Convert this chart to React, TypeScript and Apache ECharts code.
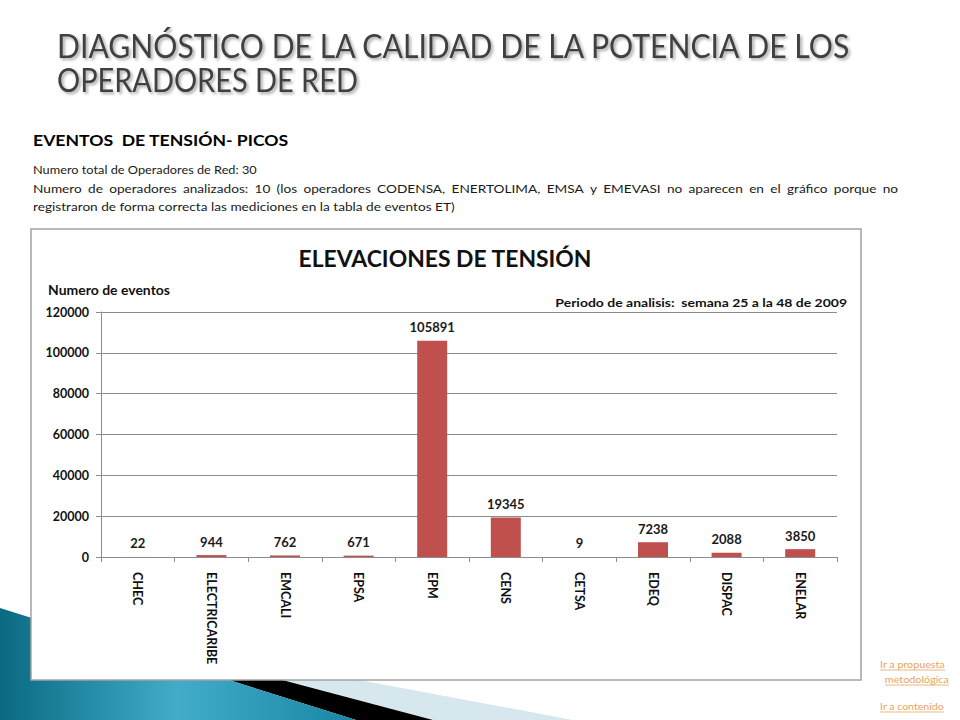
import React, { useEffect, useRef } from "react";
import * as echarts from "echarts";

const categories = ["CHEC", "ELECTRICARIBE", "EMCALI", "EPSA", "EPM", "CENS", "CETSA", "EDEQ", "DISPAC", "ENELAR"];
const values = [22, 944, 762, 671, 105891, 19345, 9, 7238, 2088, 3850];
const yMin = 0;
const yMax = 120000;
const yStep = 20000;

const titleLines = ["DIAGNÓSTICO DE LA CALIDAD DE LA POTENCIA DE LOS", "OPERADORES DE RED"];
const subtitle = "EVENTOS  DE TENSIÓN- PICOS";
const bodyLine1 = "Numero total de Operadores de Red: 30";
const bodyLine2 =
  "Numero de operadores analizados: 10 (los operadores CODENSA, ENERTOLIMA, EMSA y EMEVASI no aparecen en el gráfico porque no";
const bodyLine3 = "registraron de forma correcta las mediciones en la tabla de eventos ET)";
const chartTitle = "ELEVACIONES DE TENSIÓN";
const yAxisTitle = "Numero de eventos";
const periodText = "Periodo de analisis:  semana 25 a la 48 de 2009";
const links = ["Ir a propuesta", " metodológica", "Ir a contenido"];

const FONT = "Lato, 'Open Sans', 'DejaVu Sans', sans-serif";

let ctx: CanvasRenderingContext2D | null = null;
function measure(text: string, size: number, weight: string = "normal"): number {
  if (!ctx) ctx = document.createElement("canvas").getContext("2d");
  if (!ctx) return text.length * size * 0.5;
  ctx.font = `${weight} ${size}px ${FONT}`;
  return ctx.measureText(text).width;
}

function fitText(
  text: string,
  x: number,
  y: number,
  size: number,
  weight: string,
  fill: string,
  targetW: number,
  align: string = "left",
  extra: any = {}
) {
  const w = measure(text, size, weight);
  const s = targetW / w;
  return {
    type: "text",
    x,
    y,
    scaleX: s,
    z: 10,
    style: {
      text,
      fontFamily: FONT,
      fontSize: size,
      fontWeight: weight,
      fill,
      textAlign: align,
      textVerticalAlign: "middle",
      ...extra,
    },
  };
}

export default function App() {
  const ref = useRef<HTMLDivElement>(null);

  useEffect(() => {
    if (!ref.current) return;
    const chart = echarts.init(ref.current, undefined, { renderer: "svg" });

    const graphics: any[] = [];

    // decorative shapes bottom-left
    graphics.push({
      type: "polygon",
      z: -3,
      shape: { points: [[200, 650], [573, 720], [433, 720], [200, 658]] },
      style: { fill: "#d6e7ee" },
    });
    graphics.push({
      type: "polygon",
      z: -3,
      shape: { points: [[100, 631.8], [433, 720], [356, 720], [100, 639.4]] },
      style: { fill: "#000000" },
    });
    graphics.push({
      type: "polygon",
      z: -3,
      shape: { points: [[0, 608], [356, 720], [0, 720]] },
      style: {
        fill: new echarts.graphic.LinearGradient(0, 0, 1, 0, [
          { offset: 0, color: "#0a6a82" },
          { offset: 0.5, color: "#42acc9" },
          { offset: 1, color: "#1886a3" },
        ]),
      },
    });

    // chart box
    graphics.push({
      type: "rect",
      z: -2,
      shape: { x: 31, y: 229, width: 830, height: 451 },
      style: { fill: "#ffffff", stroke: "#a3a3a3", lineWidth: 1.5 },
    });

    // slide title
    const shadow = {
      textShadowColor: "rgba(0,0,0,0.35)",
      textShadowBlur: 3,
      textShadowOffsetX: 2,
      textShadowOffsetY: 2,
    };
    graphics.push(fitText(titleLines[0], 57, 45, 33, "normal", "#404040", 795, "left", shadow));
    graphics.push(fitText(titleLines[1], 57, 79, 33, "normal", "#404040", 301, "left", shadow));

    // subtitle & body
    graphics.push(fitText(subtitle, 33, 140, 16, "bold", "#000000", 256));
    graphics.push(fitText(bodyLine1, 33, 170, 12, "normal", "#1a1a1a", 224));
    const s3 = 422 / measure(bodyLine3, 12);
    graphics.push(fitText(bodyLine3, 33, 206, 12, "normal", "#1a1a1a", 422));
    // justified line 2
    const words = bodyLine2.split(" ");
    const ww = words.map((w) => measure(w, 12) * s3);
    const total = ww.reduce((a, b) => a + b, 0);
    const gap = (865 - total) / (words.length - 1);
    let cx = 33;
    words.forEach((w, i) => {
      graphics.push({
        type: "text",
        x: cx,
        y: 188,
        scaleX: s3,
        z: 10,
        style: {
          text: w,
          fontFamily: FONT,
          fontSize: 12,
          fill: "#1a1a1a",
          textAlign: "left",
          textVerticalAlign: "middle",
        },
      });
      cx += ww[i] + gap;
    });

    // chart texts
    graphics.push(fitText(chartTitle, 445, 258, 23, "bold", "#111111", 294, "center"));
    graphics.push(fitText(yAxisTitle, 48, 290, 13, "bold", "#111111", 122));
    graphics.push(fitText(periodText, 847, 302, 12, "bold", "#111111", 292, "right"));

    // links
    const linkColor = "#e9a35c";
    const linkPos = [
      [880, 664, 65],
      [882, 679, 67],
      [880, 706, 64],
    ];
    links.forEach((t, i) => {
      const [lx, ly, lw] = linkPos[i];
      graphics.push(fitText(t, lx, ly, 10, "normal", linkColor, lw));
      const startX = t.startsWith(" ") ? lx + 3 : lx;
      graphics.push({
        type: "line",
        z: 10,
        shape: { x1: startX, y1: ly + 6, x2: lx + lw, y2: ly + 6 },
        style: { stroke: linkColor, lineWidth: 0.8 },
      });
    });

    const axisColor = "#8c8c8c";

    chart.setOption({
      animation: false,
      backgroundColor: "#ffffff",
      grid: { left: 101, right: 123, top: 312, bottom: 163, containLabel: false },
      xAxis: {
        type: "category",
        data: categories,
        axisLine: { show: true, lineStyle: { color: axisColor, width: 1 } },
        axisTick: { show: true, length: 5, alignWithLabel: false, lineStyle: { color: axisColor } },
        axisLabel: {
          interval: 0,
          rotate: -90,
          margin: 15,
          fontFamily: FONT,
          fontWeight: "bold",
          fontSize: 12.5,
          color: "#111111",
        },
      },
      yAxis: {
        type: "value",
        min: yMin,
        max: yMax,
        interval: yStep,
        axisLine: { show: true, lineStyle: { color: axisColor, width: 1 } },
        axisTick: { show: true, length: 5, lineStyle: { color: axisColor } },
        splitLine: { show: true, lineStyle: { color: axisColor, width: 1 } },
        axisLabel: {
          margin: 12,
          fontFamily: FONT,
          fontWeight: "bold",
          fontSize: 12.5,
          color: "#111111",
          formatter: (v: number) => String(v),
        },
      },
      series: [
        {
          type: "bar",
          data: values,
          barWidth: 30,
          itemStyle: { color: "#c0504d" },
          label: {
            show: true,
            position: "top",
            distance: 7,
            fontFamily: FONT,
            fontWeight: "bold",
            fontSize: 13,
            color: "#1a1a1a",
          },
        },
      ],
      graphic: { elements: graphics },
    });

    return () => chart.dispose();
  }, []);

  return (
    <div
      ref={ref}
      style={{ position: "absolute", left: 0, top: 0, width: 960, height: 720 }}
    />
  );
}
